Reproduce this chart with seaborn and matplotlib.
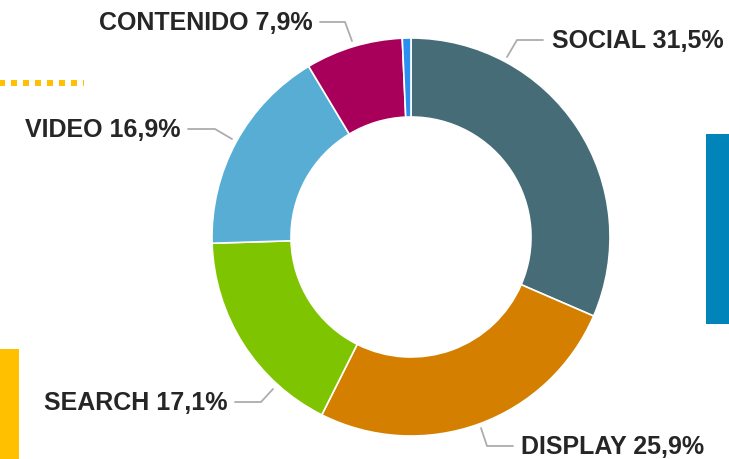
import matplotlib
matplotlib.use('Agg')
import matplotlib.pyplot as plt
import seaborn as sns
from matplotlib.patches import Rectangle

## data
categories = ['SOCIAL', 'DISPLAY', 'SEARCH', 'VIDEO', 'CONTENIDO', 'OTROS']
shares = [31.5, 25.9, 17.1, 16.9, 7.9, 0.7]
colors = ['#466d77', '#d47f00', '#7fc400', '#57add3', '#a8005a', '#2b8ff0']
show_label = [True, True, True, True, True, False]

W, H = 729, 460

def py(y):
    # image y (top-down) -> axes y (bottom-up)
    return H - y

sns.set_theme(style='white')
plt.rcParams['font.family'] = ['Liberation Sans', 'DejaVu Sans']

fig = plt.figure(figsize=(W / 100, H / 100), dpi=100)
ax = fig.add_axes([0, 0, 1, 1])

# donut
ax.pie(shares, colors=colors, startangle=90, counterclock=False,
       radius=199, center=(411, py(238)),
       wedgeprops=dict(width=79, edgecolor='white', linewidth=1.2))

# leader lines: (start, corner, end) in image pixels, text anchor and alignment
leaders = {
    'SOCIAL': ([(507, 58), (517, 41), (543, 41)], (552, 41), 'left'),
    'DISPLAY': ([(481, 429), (487, 447), (513, 447)], (521, 447), 'left'),
    'SEARCH': ([(273, 390), (261, 403), (235, 403)], (228, 403), 'right'),
    'VIDEO': ([(232, 140), (215, 130), (188, 130)], (181, 130), 'right'),
    'CONTENIDO': ([(352, 42), (345, 23), (320, 23)], (313, 23), 'right'),
}

for cat, val, show in zip(categories, shares, show_label):
    if not show:
        continue
    pts, (tx, ty), ha = leaders[cat]
    ax.plot([p[0] for p in pts], [py(p[1]) for p in pts], color='#adadad', lw=1.3,
            solid_joinstyle='miter')
    label = f"{cat} {val:.1f}".replace('.', ',') + '%'
    ax.text(tx, py(ty), label, ha=ha, va='center', fontsize=18,
            fontweight='bold', color='#262626')

# slide decorations around the chart
ax.plot([-5, 84], [py(84), py(84)], color='#ffc000', lw=4.32,
        linestyle=(0, (1, 1)), dash_capstyle='butt')
ax.add_patch(Rectangle((0, 0), 19, 110, color='#ffc000', lw=0))
ax.add_patch(Rectangle((706, py(325)), 30, 190, color='#0084b9', lw=0))

ax.set_xlim(0, W)
ax.set_ylim(0, H)
ax.set_aspect('equal')
ax.axis('off')

plt.savefig('out.png', dpi=100)
